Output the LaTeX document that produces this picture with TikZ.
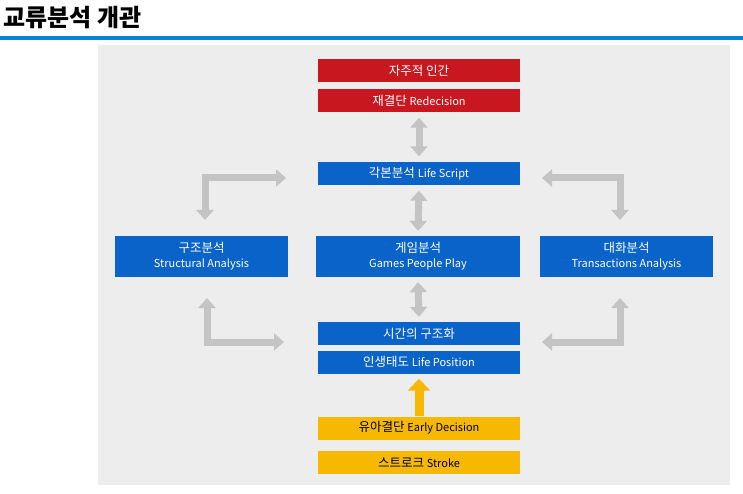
\documentclass[tikz,border=0pt]{standalone}
\usepackage{fontspec}
\setmainfont{Noto Sans CJK KR}
\usetikzlibrary{arrows.meta}
\definecolor{bblue}{HTML}{0A63C9}
\definecolor{rred}{HTML}{C8171E}
\definecolor{yel}{HTML}{F6B800}
\definecolor{bg}{HTML}{EDEDED}
\definecolor{arr}{HTML}{C4C4C4}
\tikzset{
 box/.style={minimum width=202pt,minimum height=23pt,inner sep=0pt,text=white,font=\fontsize{12.5}{14}\selectfont},
 bbox/.style={box,fill=bblue},
 rbox/.style={box,fill=rred},
 ybox/.style={box,fill=yel,text=black},
 big/.style={fill=bblue,text=white,minimum height=41pt,inner sep=0pt,align=center,font=\fontsize{12.5}{15}\selectfont},
 sm/.style={},
 garr/.style={draw=arr,line width=7pt,{Triangle[width=17pt,length=10pt]}-{Triangle[width=17pt,length=10pt]}},
}
\newcommand{\eng}[1]{{\fontsize{11}{13}\selectfont #1}}
\begin{document}
\begin{tikzpicture}[x=1pt,y=-1pt]
\useasboundingbox (0,0) rectangle (743,494);
\fill[white] (0,0) rectangle (743,494);
\node[anchor=west,font=\fontsize{24}{26}\selectfont\bfseries] (title) at (0,18) {교류분석 개관};
\fill[bblue!80!cyan] (0,36) rectangle (743,40);
\fill[bg] (98,45) rectangle (730,485);
\node[rbox] (a) at (419,70.5) {자주적 인간};
\node[rbox] (b) at (419,101) {재결단 \eng{Redecision}};
\node[bbox] (c) at (419,174) {각본분석 \eng{Life Script}};
\node[big,minimum width=173pt] (d) at (201.5,256.5) {구조분석\\\eng{Structural Analysis}};
\node[big,minimum width=204pt] (e) at (418,256.5) {게임분석\\\eng{Games People Play}};
\node[big,minimum width=173pt] (f) at (626.5,256.5) {대화분석\\\eng{Transactions Analysis}};
\node[bbox] (g) at (419,333.5) {시간의 구조화};
\node[bbox] (h) at (419,362) {인생태도 \eng{Life Position}};
\node[ybox] (i) at (419,428) {유아결단 \eng{Early Decision}};
\node[ybox] (j) at (419,462.5) {스트로크 \eng{Stroke}};
\draw[garr] ([yshift=-5]b.south) -- ([yshift=6]c.north);
\draw[garr] ([yshift=-5]c.south) -- ([yshift=5]e.north);
\draw[garr] ([yshift=-5]e.south) -- ([yshift=5]g.north);
\draw[draw=yel,line width=9pt,-{Triangle[width=22pt,length=12pt]}] (i.north) -- ([yshift=-5]h.south);
\draw[garr] (205,220) -- (205,178) -- (286,178);
\draw[garr] (620,220) -- (620,178) -- (542,178);
\draw[garr] (207,298) -- (207,342) -- (284,342);
\draw[garr] (620,298) -- (620,342) -- (542,342);
\end{tikzpicture}
\end{document}
